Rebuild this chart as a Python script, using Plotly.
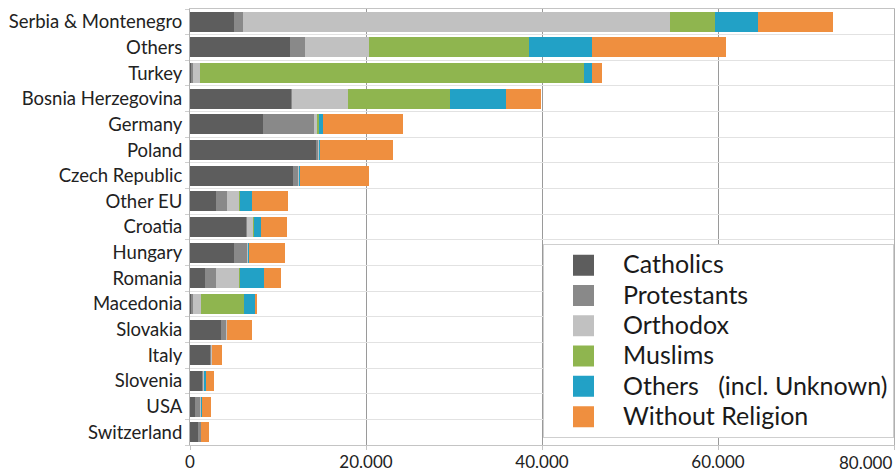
import plotly.graph_objects as go

countries = ["Serbia & Montenegro", "Others", "Turkey", "Bosnia Herzegovina", "Germany",
             "Poland", "Czech Republic", "Other EU", "Croatia", "Hungary", "Romania",
             "Macedonia", "Slovakia", "Italy", "Slovenia", "USA", "Switzerland"]

catholics   = [5000, 11400, 200, 11500, 8300, 14300, 11700, 2900, 6400, 5000, 1700, 200, 3500, 2300, 1400, 600, 900]
protestants = [1000, 1700, 100, 100, 5800, 300, 600, 1300, 100, 1500, 1200, 100, 600, 100, 100, 600, 400]
orthodox    = [48500, 7200, 800, 6400, 300, 100, 100, 1400, 700, 100, 2700, 1000, 100, 100, 100, 100, 0]
muslims     = [5200, 18200, 43700, 11500, 300, 0, 0, 100, 100, 0, 100, 4800, 0, 0, 100, 0, 0]
others      = [4900, 7200, 900, 6400, 400, 100, 100, 1300, 800, 100, 2700, 1300, 0, 0, 100, 100, 0]
without     = [8500, 15200, 1100, 4000, 9100, 8300, 7800, 4100, 2900, 4100, 1900, 200, 2900, 1100, 900, 1000, 900]

series_names = ["Catholics", "Protestants", "Orthodox", "Muslims",
                "Others\u00a0\u00a0\u00a0(incl. Unknown)", "Without Religion"]
series_vals = [catholics, protestants, orthodox, muslims, others, without]
colors = ["#5d5d5d", "#898989", "#c1c1c1", "#8fb54f", "#22a1c6", "#ef8f3f"]

x_tickvals = [0, 20000, 40000, 60000, 80000]
x_ticktext = ["0", "20.000", "40.000", "60.000", "80.000"]

FONT = "Lato, 'Open Sans', sans-serif"
TICK_FONT = dict(size=17, color="#222222", family=FONT)

fig = go.Figure()
for name, vals, col in zip(series_names, series_vals, colors):
    fig.add_trace(go.Bar(
        y=countries, x=vals, name=name, orientation="h",
        marker=dict(color=col, line=dict(width=0)),
        legendgroup=name, showlegend=False,
    ))
# legend entries (large square swatches, larger legend text)
for name, col in zip(series_names, colors):
    fig.add_trace(go.Scatter(
        x=[None], y=[None], mode="markers",
        name="<span style='font-size:25px'>" + name + "</span>",
        legendgroup=name, showlegend=True, hoverinfo="skip",
        marker=dict(symbol="square", size=16, color=col, line=dict(color=col, width=5)),
    ))

# last tick label drawn right-aligned at its tick so it stays inside the page
ticktext = x_ticktext[:-1] + [""]
fig.add_annotation(
    x=x_tickvals[-1], xref="x", y=0, yref="paper",
    text=x_ticktext[-1], showarrow=False,
    xanchor="right", yanchor="middle", yshift=-17,
    font=TICK_FONT,
)

fig.update_layout(
    width=896, height=473,
    barmode="stack",
    bargap=0.22,
    plot_bgcolor="white",
    paper_bgcolor="white",
    margin=dict(l=190, r=2, t=9, b=28, autoexpand=False),
    font=dict(family=FONT, color="#222222"),
    showlegend=True,
    legend=dict(
        x=1.0, xanchor="right", y=0.461, yanchor="top",
        bgcolor="white", bordercolor="#cfcfcf", borderwidth=1,
        font=dict(size=21, family=FONT, color="#1a1a1a"),
        traceorder="normal", itemwidth=69,
        tracegroupgap=0,
    ),
    xaxis=dict(
        range=[0, 80000],
        tickvals=x_tickvals, ticktext=ticktext,
        showgrid=True, gridcolor="#9a9a9a", gridwidth=1,
        zeroline=False,
        showline=True, linecolor="#c4c4c4", linewidth=1, mirror=True,
        ticks="outside", ticklen=4, tickcolor="#c4c4c4",
        ticklabelstandoff=-2,
        tickfont=TICK_FONT,
        fixedrange=True,
    ),
    yaxis=dict(
        type="category",
        categoryorder="array", categoryarray=countries[::-1],
        range=[-0.5, len(countries) - 0.5],
        tickson="boundaries",
        showgrid=True, gridcolor="#e2e2e2", gridwidth=1,
        showline=True, linecolor="#b0b0b0", linewidth=1, mirror=True,
        ticks="outside", ticklen=4, tickcolor="#cfcfcf",
        ticklabelstandoff=3,
        tickfont=dict(size=18.5, color="#222222", family=FONT),
        fixedrange=True,
    ),
)

fig.write_html("out.html")
